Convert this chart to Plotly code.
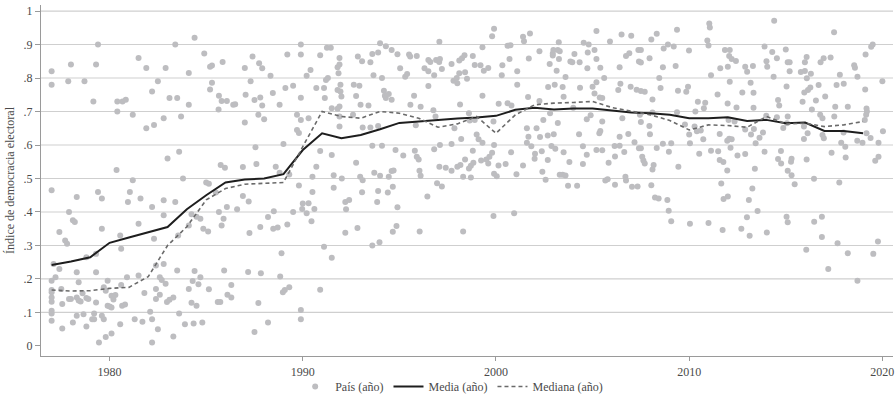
import plotly.graph_objects as go

# ---------------- data ----------------
anios = list(range(1977, 2020))
media = [0.242, 0.252, 0.265, 0.308, 0.324, 0.339, 0.355, 0.408, 0.45, 0.488,
         0.497, 0.50, 0.513, 0.585, 0.635, 0.62, 0.63, 0.647, 0.666, 0.67,
         0.675, 0.679, 0.682, 0.687, 0.705, 0.711, 0.706, 0.709, 0.709, 0.703,
         0.697, 0.695, 0.69, 0.68, 0.68, 0.683, 0.672, 0.675, 0.665, 0.667,
         0.642, 0.642, 0.635]
mediana = [0.167, 0.164, 0.165, 0.172, 0.175, 0.207, 0.30, 0.356, 0.436, 0.47,
           0.483, 0.486, 0.488, 0.595, 0.70, 0.685, 0.68, 0.70, 0.695, 0.68,
           0.653, 0.663, 0.685, 0.635, 0.69, 0.72, 0.725, 0.727, 0.73, 0.712,
           0.70, 0.69, 0.673, 0.645, 0.66, 0.658, 0.653, 0.685, 0.663, 0.665,
           0.655, 0.66, 0.67]

puntos_1977_1984 = [
    (1977.0, .82), (1977.0, .78), (1977.86, .79), (1978.0, .84), (1978.7, .79), (1979.16, .73),
    (1979.3, .84), (1979.4, .90), (1980.4, .73), (1980.4, .70), (1980.67, .73), (1980.84, .735),
    (1981.2, .69), (1981.5, .86), (1981.9, .83), (1981.9, .65), (1982.2, .76), (1982.3, .66),
    (1982.5, .79), (1982.8, .68), (1982.9, .83), (1983.1, .74), (1983.4, .90), (1983.5, .74),
    (1983.7, .685), (1984.1, .815), (1984.1, .72),
    (1977.0, .465), (1983.0, .56), (1983.6, .58), (1983.8, .50), (1980.36, .525), (1981.2, .495),
    (1981.05, .46), (1980.95, .43), (1981.6, .44), (1979.4, .46), (1979.6, .44), (1978.3, .445),
    (1977.9, .40), (1978.1, .375), (1978.2, .37), (1977.4, .34), (1977.7, .315), (1977.8, .305),
    (1979.6, .35), (1981.5, .365), (1982.2, .415), (1982.8, .435), (1983.4, .43), (1982.8, .39),
    (1980.55, .33), (1980.6, .29), (1982.3, .32), (1984.1, .36), (1983.55, .33),
    (1977.1, .245), (1977.4, .23), (1978.3, .22), (1978.8, .265), (1979.3, .275), (1979.3, .22),
    (1977.0, .195), (1977.2, .205), (1978.4, .19), (1979.9, .195), (1980.9, .205), (1981.5, .21),
    (1982.4, .24), (1982.8, .245), (1982.6, .205), (1982.7, .197), (1982.9, .186), (1983.5, .225),
    (1984.1, .17), (1977.0, .167), (1977.0, .16), (1977.0, .145), (1977.0, .132), (1977.5, .17),
    (1977.55, .125), (1977.9, .14), (1978.0, .14), (1978.3, .145), (1978.4, .136), (1978.5, .133),
    (1978.6, .157), (1978.8, .143), (1978.9, .14), (1979.8, .165), (1979.7, .175), (1980.1, .15),
    (1980.3, .152), (1980.2, .139), (1980.6, .182), (1981.8, .158), (1982.4, .17), (1982.6, .153),
    (1982.4, .14), (1982.97, .131), (1983.1, .138), (1983.3, .145), (1979.3, .13), (1977.0, .105),
    (1977.0, .097), (1977.0, .075), (1977.55, .052), (1978.1, .07), (1978.3, .09), (1978.65, .095),
    (1978.8, .058), (1979.1, .08), (1979.2, .08), (1979.2, .097), (1979.6, .09), (1979.7, .08),
    (1979.9, .12), (1980.0, .118), (1980.1, .115), (1980.65, .12), (1980.8, .124), (1980.55, .065),
    (1981.3, .08), (1981.7, .072), (1982.1, .102), (1982.2, .08), (1982.5, .05), (1979.45, .01),
    (1979.8, .027), (1980.1, .037), (1982.2, .01), (1983.3, .028), (1983.6, .097), (1983.9, .065),
]

puntos_1984_1992 = [
    (1984.4, .92), (1984.9, .873), (1985.3, .837), (1985.2, .834), (1985.85, .848), (1985.3, .786),
    (1985.2, .766), (1985.66, .747), (1985.8, .731), (1986.07, .731), (1985.64, .706), (1986.4, .72),
    (1986.5, .722), (1987.0, .83), (1987.3, .79), (1987.4, .864), (1987.74, .844), (1987.9, .829),
    (1987.04, .75), (1987.5, .734), (1987.8, .742), (1987.9, .718), (1987.7, .69), (1988.0, .677),
    (1988.33, .807), (1987.0, .667), (1988.45, .755), (1988.8, .72), (1989.1, .77), (1989.2, .87),
    (1989.5, .777), (1989.9, .90), (1989.9, .87), (1989.9, .741), (1990.2, .807), (1990.4, .824),
    (1989.7, .69), (1989.9, .675), (1990.3, .68), (1989.7, .645), (1989.8, .636), (1990.7, .77),
    (1990.9, .868), (1991.1, .77), (1991.14, .74), (1991.2, .794), (1991.3, .80), (1991.25, .89),
    (1991.45, .89), (1991.5, .71), (1991.8, .708), (1991.8, .764), (1991.85, .814), (1991.8, .832),
    (1989.0, .603), (1987.55, .593), (1990.9, .582), (1991.5, .57), (1985.75, .54), (1985.97, .532),
    (1986.9, .534), (1987.6, .543), (1988.6, .535), (1988.8, .517), (1989.3, .512), (1990.7, .535),
    (1990.5, .505), (1991.6, .51), (1985.0, .488), (1985.14, .484), (1989.8, .479), (1990.5, .46),
    (1991.6, .472), (1985.5, .458), (1986.9, .448), (1987.2, .431), (1986.07, .415), (1986.6, .408),
    (1985.66, .40), (1984.24, .393), (1984.5, .386), (1984.7, .38), (1985.9, .38), (1985.8, .36),
    (1984.85, .35), (1985.1, .342), (1987.24, .337), (1987.8, .355), (1988.2, .385), (1988.5, .402),
    (1988.47, .35), (1988.7, .354), (1989.2, .363), (1989.5, .40), (1990.0, .425), (1990.3, .426),
    (1989.97, .409), (1990.2, .396), (1990.45, .372), (1990.6, .409), (1991.1, .296), (1991.5, .263),
    (1988.9, .277), (1984.4, .224), (1985.93, .225), (1987.17, .221), (1987.83, .217), (1988.83, .207),
    (1984.7, .205), (1984.3, .194), (1984.6, .184), (1985.14, .169), (1986.3, .182), (1986.1, .153),
    (1986.3, .145), (1985.6, .131), (1985.73, .131), (1984.24, .129), (1984.5, .12), (1987.7, .128),
    (1988.97, .16), (1989.07, .167), (1989.3, .175), (1990.9, .168), (1989.9, .107), (1989.9, .08),
    (1984.35, .067), (1984.8, .07), (1988.2, .07), (1987.5, .042),
]

puntos_1992_1999 = [
    (1991.9, .86), (1991.9, .84), (1991.95, .78), (1991.95, .76), (1992.0, .745), (1991.9, .715),
    (1992.85, .864), (1993.07, .85), (1992.64, .78), (1992.93, .777), (1992.76, .746), (1992.99, .72),
    (1993.4, .718), (1993.5, .847), (1993.6, .872), (1993.9, .876), (1994.0, .904), (1994.3, .895),
    (1993.66, .808), (1994.1, .80), (1994.2, .762), (1994.25, .747), (1994.3, .74), (1994.6, .735),
    (1994.45, .752), (1994.6, .884), (1994.9, .871), (1995.04, .829), (1995.3, .804), (1995.4, .812),
    (1995.5, .87), (1995.56, .864), (1995.9, .866), (1995.57, .72), (1995.76, .747), (1996.1, .714),
    (1996.3, .829), (1996.5, .82), (1996.5, .854), (1996.6, .848), (1996.5, .776), (1996.8, .808),
    (1996.9, .854), (1997.06, .848), (1997.1, .857), (1997.2, .827), (1997.07, .908), (1997.7, .842),
    (1997.8, .792), (1998.0, .784), (1998.1, .852), (1998.24, .859), (1998.37, .868), (1998.1, .814),
    (1998.4, .817), (1998.5, .798), (1997.97, .80), (1998.14, .721), (1998.8, .866), (1998.9, .839),
    (1999.3, .892), (1999.3, .747), (1999.2, .838), (1999.37, .822), (1999.6, .83),
    (1991.9, .685), (1991.9, .655), (1992.6, .69), (1993.1, .652), (1993.5, .652), (1993.9, .657),
    (1993.6, .598), (1994.1, .598), (1994.8, .585), (1995.2, .569), (1995.8, .583), (1995.9, .565),
    (1996.0, .557), (1996.76, .704), (1996.87, .685), (1995.85, .659), (1996.8, .587), (1997.1, .60),
    (1997.7, .603), (1997.85, .65), (1998.2, .618), (1998.6, .695), (1998.64, .673), (1998.9, .675),
    (1999.0, .631), (1999.1, .617), (1999.3, .607), (1998.8, .583), (1998.83, .547), (1998.7, .538),
    (1998.6, .53), (1999.23, .554), (1999.5, .557), (1999.6, .545), (1998.4, .557), (1998.16, .54),
    (1998.0, .535), (1997.7, .523), (1997.4, .532), (1997.07, .535), (1998.3, .505), (1998.7, .503),
    (1996.04, .523), (1996.1, .508), (1994.6, .522), (1994.7, .524), (1994.45, .505), (1993.7, .517),
    (1994.0, .508), (1992.76, .547), (1992.02, .50), (1992.97, .505), (1993.1, .495), (1994.66, .475),
    (1993.07, .459), (1993.9, .463), (1994.4, .458), (1992.2, .43), (1992.4, .436), (1992.24, .408),
    (1993.85, .43), (1994.9, .414), (1996.45, .446), (1996.95, .486), (1997.2, .476), (1992.2, .338),
    (1992.83, .352), (1993.6, .30), (1993.97, .31), (1994.66, .341), (1994.85, .358), (1996.05, .342),
    (1998.3, .342),
]

puntos_1999_2007 = [
    (1999.9, .947), (1999.8, .925), (2000.33, .838), (2000.3, .808), (2000.6, .896), (2000.75, .898),
    (2000.7, .857), (2001.1, .82), (2001.1, .78), (2001.4, .923), (2001.45, .91), (2001.76, .933),
    (2001.7, .858), (2002.25, .88), (2001.66, .743), (2000.14, .723), (2000.6, .725), (2000.8, .718),
    (2002.78, .842), (2002.97, .884), (2002.94, .873), (2002.94, .867), (2003.2, .884), (2003.25, .907),
    (2003.3, .88), (2003.26, .857), (2003.14, .822), (2003.6, .803), (2003.85, .849), (2003.95, .847),
    (2004.06, .872), (2004.33, .847), (2002.7, .773), (2003.04, .78), (2003.45, .773), (2003.5, .744),
    (2002.25, .731), (2004.35, .771), (2004.54, .905), (2004.8, .90), (2004.73, .829), (2004.75, .876),
    (2005.1, .884), (2005.2, .857), (2005.2, .94), (2005.4, .831), (2005.6, .80), (2005.0, .774),
    (2005.2, .787), (2005.1, .754), (2005.37, .742), (2005.5, .74), (2005.9, .909), (2006.4, .832),
    (2006.5, .93), (2007.0, .926), (2006.73, .866), (2006.9, .874), (2007.37, .884), (2006.33, .764),
    (2006.44, .783), (2006.97, .774), (2007.28, .765), (2007.4, .849),
    (1999.87, .67), (1999.9, .60), (1999.8, .577), (1999.66, .565), (2000.78, .578), (2000.13, .539),
    (2000.5, .543), (1999.9, .514), (2000.04, .507), (2001.06, .513), (2001.4, .539), (2001.6, .65),
    (2001.68, .625), (2001.6, .607), (2001.83, .596), (2002.02, .574), (2002.0, .559), (2002.1, .65),
    (2002.28, .624), (2002.45, .675), (2002.37, .581), (2002.4, .52), (2002.57, .496), (2002.68, .628),
    (2002.68, .555), (2002.8, .695), (2002.99, .632), (2002.87, .597), (2003.07, .589), (2003.2, .666),
    (2003.5, .578), (2003.3, .511), (2003.45, .511), (2003.6, .509), (2003.73, .478), (2004.2, .478),
    (2003.8, .549), (2004.3, .632), (2004.0, .711), (2004.5, .596), (2004.5, .543), (2004.7, .571),
    (2004.7, .677), (2004.9, .689), (2005.35, .635), (2005.4, .642), (2005.2, .585), (2005.5, .584),
    (2005.5, .67), (2005.83, .547), (2005.66, .494), (2005.78, .498), (2006.14, .597), (2006.4, .598),
    (2006.4, .625), (2006.16, .566), (2006.16, .481), (2006.54, .68), (2006.64, .579), (2006.85, .633),
    (2006.7, .505), (2006.73, .494), (2007.04, .475), (2007.33, .476), (2007.17, .608), (2007.4, .59),
    (1999.87, .388), (2000.94, .396),
]

puntos_2007_2015 = [
    (2008.04, .915), (2008.32, .932), (2007.5, .884), (2007.5, .846), (2007.95, .859), (2008.68, .888),
    (2008.9, .90), (2009.2, .894), (2008.64, .832), (2009.37, .944), (2009.3, .836), (2009.99, .882),
    (2008.45, .80), (2008.52, .77), (2007.5, .761), (2007.7, .759), (2008.1, .736), (2009.42, .762),
    (2009.94, .774), (2009.85, .759), (2010.45, .729), (2010.83, .726), (2010.76, .71), (2011.04, .963),
    (2011.07, .951), (2010.94, .912), (2011.0, .897), (2011.13, .808), (2011.61, .829), (2011.47, .751),
    (2011.85, .884), (2012.1, .884), (2012.07, .866), (2012.2, .857), (2012.42, .851), (2012.0, .834),
    (2012.1, .789), (2011.99, .724), (2012.45, .712), (2012.9, .834), (2013.0, .819), (2013.3, .836),
    (2012.75, .757), (2013.18, .786), (2013.33, .756), (2013.33, .711), (2013.9, .894), (2014.0, .85),
    (2014.04, .834), (2014.4, .971), (2014.3, .878), (2014.54, .859), (2014.37, .804), (2015.0, .885),
    (2015.1, .847), (2015.04, .775), (2014.6, .734), (2014.66, .718),
    (2007.45, .69), (2007.5, .669), (2007.94, .657), (2007.97, .632), (2008.1, .697), (2007.5, .59),
    (2007.57, .565), (2007.63, .554), (2007.7, .545), (2008.32, .591), (2008.64, .604), (2009.07, .605),
    (2008.95, .58), (2008.16, .54), (2008.1, .527), (2009.37, .698), (2009.44, .535), (2008.04, .48),
    (2008.23, .443), (2008.42, .44), (2008.87, .436), (2008.94, .404), (2009.07, .372), (2009.78, .661),
    (2010.0, .631), (2010.04, .605), (2010.32, .70), (2010.28, .655), (2010.4, .641), (2010.6, .643),
    (2010.73, .617), (2010.52, .574), (2010.04, .365), (2011.0, .367), (2011.13, .583), (2011.5, .581),
    (2011.58, .633), (2011.58, .555), (2011.77, .549), (2011.97, .524), (2011.66, .485), (2011.78, .439),
    (2012.0, .446), (2011.73, .346), (2011.97, .613), (2012.07, .619), (2012.2, .617), (2012.14, .592),
    (2012.5, .569), (2012.9, .573), (2012.35, .67), (2012.04, .675), (2012.9, .646), (2013.2, .631),
    (2013.44, .605), (2013.35, .648), (2013.64, .622), (2013.82, .637), (2013.4, .529), (2013.27, .47),
    (2013.09, .436), (2013.54, .403), (2012.99, .384), (2013.13, .329), (2012.7, .35), (2013.9, .58),
    (2013.99, .687), (2014.54, .683), (2014.02, .339), (2014.75, .582), (2014.6, .558), (2014.76, .545),
    (2014.87, .651), (2015.06, .665), (2015.1, .685), (2015.04, .386), (2015.1, .369), (2015.1, .523),
]

puntos_2015_2020 = [
    (2017.5, .937), (2019.5, .90), (2019.42, .893), (2019.13, .87), (2015.99, .847), (2016.08, .863),
    (2016.8, .847), (2016.96, .859), (2017.32, .861), (2018.54, .838), (2018.58, .831), (2018.71, .804),
    (2015.78, .818), (2015.99, .821), (2016.09, .799), (2016.3, .813), (2015.2, .82), (2015.2, .847),
    (2017.8, .81), (2016.7, .779), (2017.63, .779), (2018.0, .783), (2016.27, .772), (2016.15, .764),
    (2015.96, .757), (2019.11, .766), (2020.0, .79), (2017.04, .745), (2016.56, .733), (2015.87, .729),
    (2017.56, .714), (2018.21, .714), (2016.35, .706), (2019.18, .709), (2019.2, .70), (2019.16, .69),
    (2016.78, .69), (2016.9, .68), (2017.51, .685), (2019.09, .675),
    (2015.94, .655), (2016.13, .635), (2015.94, .618), (2016.9, .63), (2016.97, .62), (2017.99, .637),
    (2017.87, .607), (2018.08, .595), (2017.37, .577), (2018.1, .563), (2019.18, .635), (2019.39, .621),
    (2018.7, .613), (2018.97, .607), (2019.8, .607), (2020.03, .641), (2019.8, .565), (2019.63, .553),
    (2015.3, .559), (2015.27, .55), (2016.08, .557), (2015.3, .51), (2015.46, .483), (2016.46, .499),
    (2017.77, .488), (2016.47, .371), (2016.87, .386), (2016.87, .325), (2017.68, .307), (2016.06, .287),
    (2017.2, .23), (2018.21, .277), (2019.77, .312), (2019.53, .275), (2018.71, .195),
]

ticks_x = [1980, 1990, 2000, 2010, 2020]
ticks_y = [0, 0.1, 0.2, 0.3, 0.4, 0.5, 0.6, 0.7, 0.8, 0.9, 1]
etiquetas_y = ["0", ".1", ".2", ".3", ".4", ".5", ".6", ".7", ".8", ".9", "1"]
nombres = ["País (año)", "Media (año)", "Mediana (año)"]

# ---------------- figure ----------------
todos = (puntos_1977_1984 + puntos_1984_1992 + puntos_1992_1999 +
         puntos_1999_2007 + puntos_2007_2015 + puntos_2015_2020)
px = [p[0] for p in todos]
py = [p[1] for p in todos]

FONT = "Liberation Serif"
TXT = "#4a4a4a"

fig = go.Figure()
fig.add_trace(go.Scatter(
    x=px, y=py, mode="markers", name=nombres[0],
    marker=dict(size=6, color="#bdbdc0", line=dict(width=0)),
))
fig.add_trace(go.Scatter(
    x=anios, y=media, mode="lines", name=nombres[1],
    line=dict(color="#1e1e1e", width=2),
))
fig.add_trace(go.Scatter(
    x=anios, y=mediana, mode="lines", name=nombres[2],
    line=dict(color="#6a6a6a", width=1.6, dash="4px,3px"),
))

# horizontal gridlines (none at 0)
shapes = []
for v in ticks_y[1:]:
    shapes.append(dict(type="line", xref="paper", x0=0, x1=1, yref="y", y0=v, y1=v,
                       line=dict(color="#cfcfcf", width=1.2), layer="below"))

fig.update_layout(
    width=896, height=400,
    margin=dict(l=41, r=3, t=5, b=44, autoexpand=False),
    paper_bgcolor="white", plot_bgcolor="white",
    font=dict(family=FONT, size=12, color=TXT),
    shapes=shapes,
    showlegend=True,
    legend=dict(orientation="h", x=0.482, xanchor="center", y=-0.087, yanchor="middle",
                font=dict(family=FONT, size=12, color=TXT), itemwidth=30,
                entrywidth=0, tracegroupgap=0,
                bgcolor="rgba(0,0,0,0)"),
    xaxis=dict(range=[1976.45, 2020.55], tickvals=ticks_x, showgrid=False, zeroline=False,
               showline=True, linecolor="#9a9a9a", linewidth=1.2,
               ticks="outside", ticklen=4, tickcolor="#9a9a9a",
               tickfont=dict(family=FONT, size=12, color=TXT)),
    yaxis=dict(range=[-0.03, 1.018], tickvals=ticks_y, ticktext=etiquetas_y,
               showgrid=False, zeroline=False,
               showline=True, linecolor="#9a9a9a", linewidth=1.2,
               ticks="outside", ticklen=5, tickcolor="#9a9a9a",
               tickfont=dict(family=FONT, size=12, color=TXT),
               title=dict(text="Índice de democracia electoral", standoff=6,
                          font=dict(family=FONT, size=12, color=TXT))),
)

fig.write_html("out.html")
